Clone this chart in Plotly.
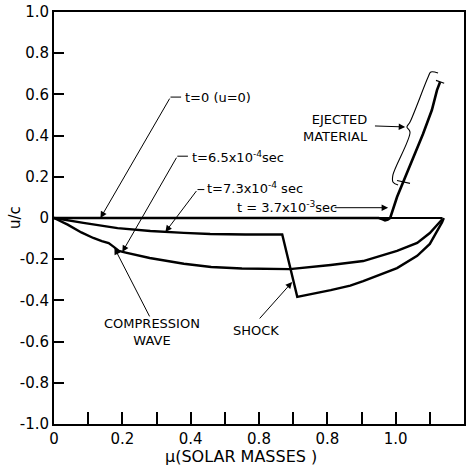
import plotly.graph_objects as go

# ---- data (mass coordinate mu in solar masses, velocity u/c) ----
mu_t0 = [0.0, 1.137]
u_t0 = [0.0, 0.0]

mu_t65 = [0.0, 0.04, 0.08, 0.115, 0.14, 0.16, 0.175, 0.19, 0.21, 0.25, 0.28, 0.38, 0.46, 0.55,
          0.69, 0.81, 0.905, 1.004, 1.063, 1.10, 1.121, 1.137]
u_t65 = [0.0, -0.032, -0.07, -0.097, -0.112, -0.122, -0.14, -0.16, -0.168, -0.182, -0.194, -0.222,
         -0.238, -0.245, -0.248, -0.228, -0.209, -0.16, -0.121, -0.073, -0.034, -0.005]

mu_t73 = [0.0, 0.04, 0.086, 0.186, 0.282, 0.38, 0.457, 0.56, 0.668, 0.712, 0.76, 0.81, 0.867,
          0.905, 1.004, 1.063, 1.10, 1.121, 1.136, 1.141]
u_t73 = [0.0, -0.012, -0.024, -0.049, -0.063, -0.072, -0.078, -0.08, -0.08, -0.383, -0.368,
         -0.35, -0.328, -0.306, -0.243, -0.184, -0.126, -0.068, -0.02, 0.0]

mu_t37 = [0.0, 0.95, 0.962, 0.969, 0.977, 0.984, 1.004, 1.022, 1.051, 1.08, 1.106, 1.121, 1.13]
u_t37 = [0.0, 0.0, -0.006, -0.012, -0.008, 0.0, 0.102, 0.175, 0.296, 0.408, 0.524, 0.621, 0.66]

# brace marking ejected material
brace_mu = [1.124, 1.103, 1.095, 1.042, 1.033, 1.042, 0.992, 0.992, 1.007]
brace_u = [0.704, 0.709, 0.684, 0.466, 0.442, 0.417, 0.209, 0.175, 0.160]
tick_top_mu = [1.118, 1.142]
tick_top_u = [0.668, 0.654]
tick_bot_mu = [1.004, 1.042]
tick_bot_u = [0.182, 0.168]

x_tickvals = [0.0, 0.1, 0.2, 0.3, 0.4, 0.5, 0.6, 0.7, 0.8, 0.9, 1.0, 1.1, 1.2]
x_ticktext = ["0", "", "0.2", "", "0.4", "", "0.8", "", "0.8", "", "1.0", "", "1.2"]
y_tickvals = [1.0, 0.8, 0.6, 0.4, 0.2, 0.0, -0.2, -0.4, -0.6, -0.8, -1.0]
y_ticktext = ["1.0", "0.8", "0.6", "0.4", "0.2", "0", "-0.2", "-0.4", "-0.6", "-0.8", "-1.0"]

FONT = "DejaVu Sans"
fig = go.Figure()

for xs, ys, w in [(mu_t0, u_t0, 2.2), (mu_t65, u_t65, 2.4), (mu_t73, u_t73, 2.4), (mu_t37, u_t37, 2.6)]:
    fig.add_trace(go.Scatter(x=xs, y=ys, mode="lines", line=dict(color="black", width=w),
                             showlegend=False, hoverinfo="skip"))

for xs, ys in [(brace_mu, brace_u), (tick_top_mu, tick_top_u), (tick_bot_mu, tick_bot_u)]:
    fig.add_trace(go.Scatter(x=xs, y=ys, mode="lines", line=dict(color="black", width=1.1),
                             line_shape="spline", showlegend=False, hoverinfo="skip"))

# leader arrows: (tip_x, tip_y, tail_x, tail_y)
arrows = [
    (0.136, 0.0, 0.341, 0.587),
    (0.200, -0.165, 0.361, 0.300),
    (0.326, -0.068, 0.420, 0.138),
    (0.978, 0.05, 0.817, 0.05),
    (0.177, -0.146, 0.282, -0.485),
    (0.697, -0.311, 0.598, -0.495),
    (1.028, 0.442, 0.935, 0.447),
]
for tx, ty, ax, ay in arrows:
    fig.add_annotation(x=tx, y=ty, ax=ax, ay=ay, xref="x", yref="y", axref="x", ayref="y",
                       text="", showarrow=True, arrowhead=2, arrowsize=1.3, arrowwidth=1,
                       arrowcolor="black")

# short horizontal stubs of leaders
stubs = [(0.341, 0.372, 0.587), (0.361, 0.392, 0.300), (0.420, 0.440, 0.138)]
for x0, x1, y in stubs:
    fig.add_shape(type="line", x0=x0, x1=x1, y0=y, y1=y, xref="x", yref="y",
                  line=dict(color="black", width=1))

labels = [
    ("t=0 (u=0)", 0.379, 0.587, "left", "left"),
    ("t=6.5x10<sup>-4</sup>sec", 0.399, 0.296, "left", "left"),
    ("t=7.3x10<sup>-4</sup> sec", 0.443, 0.146, "left", "left"),
    ("t = 3.7x10<sup>-3</sup>sec", 0.531, 0.052, "left", "left"),
    ("EJECTED<br>MATERIAL", 0.925, 0.436, "right", "right"),
    ("COMPRESSION<br>WAVE", 0.288, -0.555, "center", "center"),
    ("SHOCK", 0.592, -0.544, "center", "center"),
]
for txt, x, y, anc, al in labels:
    fig.add_annotation(x=x, y=y, xref="x", yref="y", text=txt, showarrow=False,
                       xanchor=anc, yanchor="middle", align=al,
                       font=dict(family=FONT, size=13, color="black"))

# axis titles
fig.add_annotation(x=-0.095, y=0.5, xref="paper", yref="paper", text="u/c", showarrow=False,
                   xanchor="center", yanchor="middle", textangle=-90,
                   font=dict(family=FONT, size=15, color="black"))
fig.add_annotation(x=0.456, y=-0.080, xref="paper", yref="paper", text="μ(SOLAR MASSES )",
                   showarrow=False, font=dict(family=FONT, size=16, color="black"),
                   xanchor="center", yanchor="middle")

fig.update_xaxes(range=[0, 1.2], tickmode="array", tickvals=x_tickvals, ticktext=x_ticktext,
                 ticks="inside", ticklen=12, tickwidth=2, tickcolor="black",
                 showline=True, linewidth=2, linecolor="black", mirror=True,
                 showgrid=False, zeroline=False, automargin=False,
                 tickfont=dict(family=FONT, size=15, color="black"))
fig.update_yaxes(range=[-1, 1], tickmode="array", tickvals=y_tickvals, ticktext=y_ticktext,
                 ticks="inside", ticklen=10, tickwidth=2, tickcolor="black",
                 showline=True, linewidth=2, linecolor="black", mirror=True,
                 showgrid=False, zeroline=False, automargin=False,
                 tickfont=dict(family=FONT, size=15, color="black"))

fig.update_layout(width=473, height=472, margin=dict(l=54, r=9, t=12, b=48),
                  paper_bgcolor="white", plot_bgcolor="white", showlegend=False)

fig.write_html("out.html", config={"displayModeBar": False},
               post_script="document.body.style.margin='0';")
